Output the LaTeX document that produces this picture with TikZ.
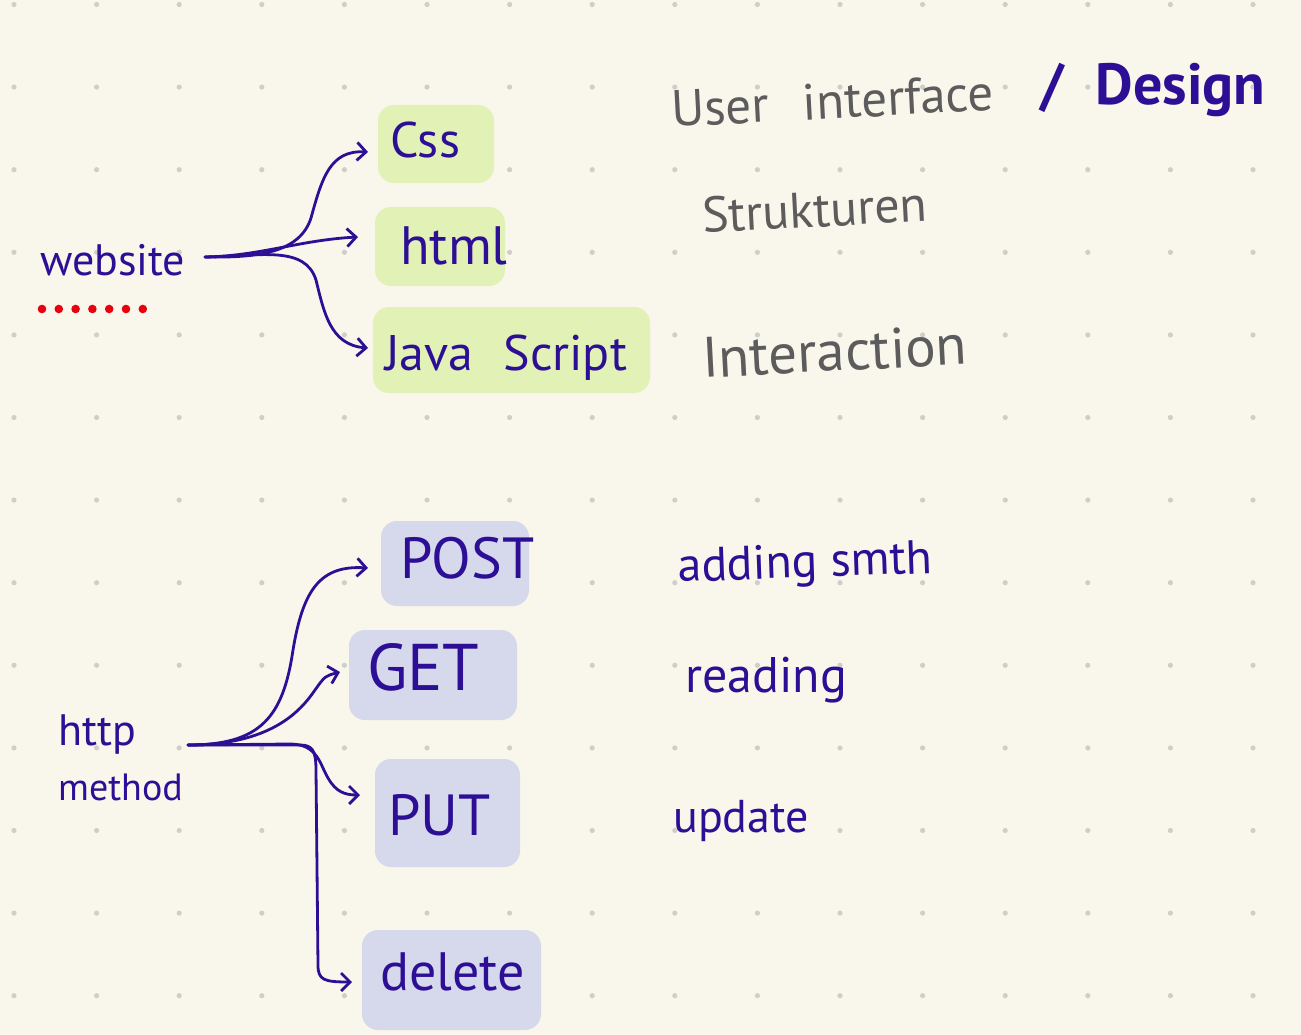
\documentclass[tikz,border=0pt]{standalone}
\usepackage{fontspec}
\setmainfont{PT Sans}
\usetikzlibrary{arrows.meta}
\definecolor{bgc}{HTML}{F9F6EB}
\definecolor{dotc}{HTML}{CFCFCA}
\definecolor{inkc}{HTML}{2D0F96}
\definecolor{grayc}{HTML}{5C5C5C}
\definecolor{greenc}{HTML}{E2F1B6}
\definecolor{lavc}{HTML}{D6D8EC}
\definecolor{redc}{HTML}{E8000C}
\newcommand{\fs}[1]{\fontsize{#1}{#1}\selectfont}
\begin{document}
\begin{tikzpicture}[x=1pt,y=-1pt,
  ink/.style={text=inkc, inner sep=0pt, anchor=base west},
  grayt/.style={text=grayc, inner sep=0pt, anchor=base west},
  hlg/.style={fill=greenc, rounded corners=16pt, draw=none, inner sep=0pt},
  hlb/.style={fill=lavc, rounded corners=16pt, draw=none, inner sep=0pt},
  conn/.style={draw=inkc, line width=2.8pt, line cap=round, line join=round,
    -{Straight Barb[length=9pt,width=18pt,line width=2.8pt]}},
]
% background and dot grid
\fill[bgc] (0,0) rectangle (1301,1035);
\useasboundingbox (0,0) rectangle (1301,1035);
\foreach \i in {0,...,15}
  \foreach \j in {0,...,12}
    \fill[dotc] ({14+82.6*\i},{4.5+82.6*\j}) circle (2.6pt);

% highlight boxes
\node[hlg, minimum width=116pt, minimum height=78pt] (cssbox) at (436,144) {};
\node[hlg, minimum width=130pt, minimum height=79pt] (htmlbox) at (440,246.5) {};
\node[hlg, minimum width=277pt, minimum height=86pt] (jsbox) at (511.5,350) {};
\node[hlb, minimum width=148pt, minimum height=85pt] (postbox) at (455,563.5) {};
\node[hlb, minimum width=168pt, minimum height=90pt] (getbox) at (433,675) {};
\node[hlb, minimum width=145pt, minimum height=108pt] (putbox) at (447.5,813) {};
\node[hlb, minimum width=179pt, minimum height=100pt] (delbox) at (451.5,980) {};

% texts top
\node[ink, font=\fs{44}] (website) at (40,275) {website};
\foreach \k in {0,...,6}
  \fill[redc] ({42+16.8*\k},309) circle (4.3pt);
\node[ink, font=\fs{50}] (css) at (390,158) {Css};
\node[ink, font=\fs{54}] (html) at (400,265) {html};
\node[ink, font=\fs{50}] (js) at (385,370) {Java\hspace{30pt}Script};

\node[grayt, font=\fs{51}, rotate=3] (ui) at (672,127) {User\hspace{34pt}interface};
\node[ink, font=\bfseries\fs{58}] (design) at (1040,105) {/\hspace{32pt}Design};
\node[grayt, font=\fs{50}, rotate=3] (struk) at (703,233) {Strukturen};
\node[grayt, font=\fs{57}, rotate=3] (inter) at (703,378) {Interaction};

% texts bottom
\node[ink, font=\fs{44}] (http) at (58,745) {http};
\node[ink, font=\fs{38}] (method) at (58,800) {method};
\node[ink, font=\fs{58}] (post) at (400,578) {POST};
\node[ink, font=\fs{66}] (get) at (367,690) {GET};
\node[ink, font=\fs{58}] (put) at (388,835) {PUT};
\node[ink, font=\fs{54}] (delete) at (380,990) {delete};
\node[ink, font=\fs{48}, rotate=2] (adding) at (678,582) {adding smth};
\node[ink, font=\fs{50}] (reading) at (685,692) {reading};
\node[ink, font=\fs{46}] (update) at (673,832) {update};

% connector coordinates
\coordinate (wsout) at (205,257);
\coordinate (tcss) at (368,152);
\coordinate (thtml) at (358,237);
\coordinate (tjs) at (368,348);
\coordinate (hmout) at (188,745);
\coordinate (tpost) at (368,568);
\coordinate (tget) at (340,672);
\coordinate (tput) at (360,795);
\coordinate (tdel) at (352,982);

% top connectors
\draw[conn] (wsout) .. controls (260,258) and (300,252) .. (311,218)
  .. controls (322,178) and (330,150) .. (tcss);
\draw[conn] (wsout) .. controls (260,256) and (300,240) .. (thtml);
\draw[conn] (wsout) .. controls (260,256) and (305,245) .. (316,280)
  .. controls (324,312) and (330,345) .. (tjs);

% bottom connectors
\draw[conn] (hmout) .. controls (260,745) and (283,718) .. (293,650)
  .. controls (303,590) and (320,565) .. (tpost);
\draw[conn] (hmout) .. controls (270,745) and (300,712) .. (315,690)
  .. controls (325,676) .. (tget);
\draw[conn] (hmout) -- (290,744) .. controls (318,744) and (320,765) .. (328,778)
  .. controls (336,792) and (345,795) .. (tput);
\draw[conn] (hmout) -- (300,745) .. controls (312,745) and (316,750) .. (316,770)
  -- (318,965) .. controls (318,980) and (324,982) .. (tdel);
\end{tikzpicture}
\end{document}
